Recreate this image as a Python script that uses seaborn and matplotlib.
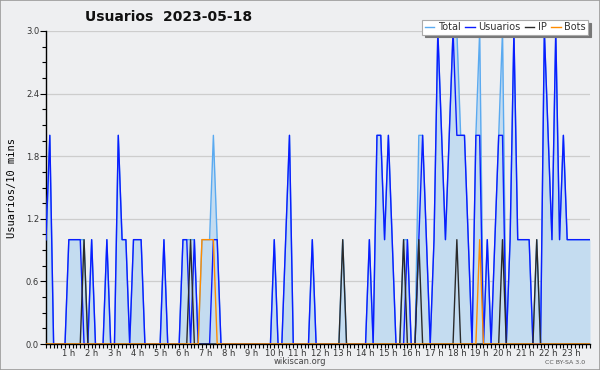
import numpy as np
import pandas as pd
import matplotlib
matplotlib.use("Agg")
import matplotlib.pyplot as plt
import seaborn as sns
from matplotlib.ticker import MultipleLocator, FixedLocator
from matplotlib.patches import Rectangle
from matplotlib.lines import Line2D

# 10-minute slots over the day (index 0..143)
usuarios = [1,2,0,0,0,0,1,1,1,1,0,0,
            1,0,0,0,1,0,0,2,1,1,0,1,
            1,1,0,0,0,0,0,1,0,0,0,0,
            1,1,0,1,0,0,0,0,1,1,0,0,
            0,0,0,0,0,0,0,0,0,0,0,0,
            1,0,0,1,2,0,0,0,0,0,1,0,
            0,0,0,0,0,0,0,0,0,0,0,0,
            0,1,0,2,2,1,2,1,0,0,0,1,
            0,0,1,2,1,0,1,3,2,1,2,3,
            2,2,2,1,0,2,2,0,1,0,1,2,
            2,0,1,3,1,1,1,1,0,0,0,3,
            2,1,3,1,2,1,1,1,1,1,1,1]
ip = [0,0,0,0,0,0,0,0,0,0,1,0,
      0,0,0,0,0,0,0,0,0,0,0,0,
      0,0,0,0,0,0,0,0,0,0,0,0,
      0,0,1,0,0,0,0,0,0,0,0,0,
      0,0,0,0,0,0,0,0,0,0,0,0,
      0,0,0,0,0,0,0,0,0,0,0,0,
      0,0,0,0,0,0,1,0,0,0,0,0,
      0,0,0,0,0,0,0,0,0,0,1,0,
      0,0,1,0,0,0,0,0,0,0,0,0,
      1,0,0,0,0,0,0,0,0,0,0,0,
      1,0,0,0,0,0,0,0,0,1,0,0,
      0,0,0,0,0,0,0,0,0,0,0,0]
bots = [0,0,0,0,0,0,0,0,0,0,0,0,
        0,0,0,0,0,0,0,0,0,0,0,0,
        0,0,0,0,0,0,0,0,0,0,0,0,
        0,0,0,0,0,1,1,1,1,0,0,0,
        0,0,0,0,0,0,0,0,0,0,0,0,
        0,0,0,0,0,0,0,0,0,0,0,0,
        0,0,0,0,0,0,0,0,0,0,0,0,
        0,0,0,0,0,0,0,0,0,0,0,0,
        0,0,0,0,0,0,0,0,0,0,0,0,
        0,0,0,0,0,0,1,0,0,0,0,0,
        0,0,0,0,0,0,0,0,0,0,0,0,
        0,0,0,0,0,0,0,0,0,0,0,0]
total = [1,2,0,0,0,0,1,1,1,1,1,0,
         1,0,0,0,1,0,0,2,1,1,0,1,
         1,1,0,0,0,0,0,1,0,0,0,0,
         1,1,1,1,0,1,1,1,2,1,0,0,
         0,0,0,0,0,0,0,0,0,0,0,0,
         1,0,0,1,2,0,0,0,0,0,1,0,
         0,0,0,0,0,0,1,0,0,0,0,0,
         0,1,0,2,2,1,2,1,0,0,1,1,
         0,0,2,2,1,0,1,3,2,1,2,3,
         3,2,2,1,0,2,3,0,1,0,1,2,
         3,0,1,3,1,1,1,1,0,1,0,3,
         2,1,3,1,2,1,1,1,1,1,1,1]

series_names = ["Total", "Usuarios", "IP", "Bots"]
series_colors = ["#5aaaf0", "#0a1cff", "#2a2a2a", "#ff8c00"]
hour_labels = [f"{h} h" for h in range(1, 24)]
yticks = [0.0, 0.6, 1.2, 1.8, 2.4, 3.0]

slots = np.arange(len(total))
df = pd.concat([
    pd.DataFrame({"slot": slots, "valor": vals, "serie": name})
    for name, vals in zip(series_names, [total, usuarios, ip, bots])
], ignore_index=True)

bg = "#eeeff1"
fig = plt.figure(figsize=(6, 3.7), dpi=100, facecolor=bg)
ax = fig.add_axes([46/600, 1-344/370, 544/600, 313/370])
ax.set_facecolor(bg)

ax.fill_between(slots, total, 0, color="#c4dcf0", lw=0, zorder=1)
sns.lineplot(data=df, x="slot", y="valor", hue="serie", hue_order=series_names,
             palette=series_colors, linewidth=1.0, ax=ax, legend=False,
             estimator=None, zorder=3)

ax.set_xlim(0, len(total) - 1)
ax.set_ylim(0, 3.0)
ax.xaxis.set_major_locator(FixedLocator([6*h for h in range(1, 24)]))
ax.set_xticklabels(hour_labels)
ax.xaxis.set_minor_locator(MultipleLocator(1))
ax.set_yticks(yticks)
ax.set_yticklabels([f"{v:.1f}" for v in yticks])
ax.yaxis.set_minor_locator(MultipleLocator(0.15))
ax.tick_params(axis="x", which="major", labelsize=6, length=3, width=0.8,
               color="black", labelcolor="#333333", pad=0.5)
ax.tick_params(axis="y", which="major", labelsize=6, length=4, width=0.8,
               color="black", labelcolor="#333333", pad=1)
ax.tick_params(axis="both", which="minor", length=3, width=0.8, color="black")
ax.grid(axis="y", color="#cdcdcd", lw=0.9, zorder=0)
ax.set_axisbelow(True)
for s in ["top", "right"]:
    ax.spines[s].set_visible(False)
for s in ["left", "bottom"]:
    ax.spines[s].set_color("black")
    ax.spines[s].set_linewidth(1.0)
ax.set_xlabel("")
ax.set_ylabel("Usuarios/10 mins", fontsize=7.5, family="DejaVu Sans Mono", labelpad=6)

fig.text(85/600, 1-17/370, "Usuarios  2023-05-18", fontsize=10, fontweight="bold",
         va="center", ha="left", color="#111111")
fig.text(300/600, 1-362/370, "wikiscan.org", fontsize=6, ha="center", va="center",
         color="#444444")
fig.text(565/600, 1-363/370, "CC BY-SA 3.0", fontsize=4.5, ha="center", va="center",
         color="#555555")

handles = [Line2D([], [], color=c, lw=1.0) for c in series_colors]
leg = fig.legend(handles, series_names, loc="upper right", ncol=4,
                 bbox_to_anchor=(593/600, 1-15/370), fontsize=7, frameon=True,
                 fancybox=False, shadow={"color": "#777777", "alpha": 1},
                 handlelength=1.0, handletextpad=0.35, columnspacing=0.45,
                 borderpad=0.25, edgecolor="#aaaaaa")
leg.get_frame().set_facecolor("white")
leg.get_frame().set_linewidth(0.8)
for t in leg.get_texts():
    t.set_color("#333333")

fig.add_artist(Rectangle((0, 0), 1, 1, transform=fig.transFigure, fill=False,
                         edgecolor="#9a9a9a", lw=1.2))
fig.savefig("out.png", dpi=100, facecolor=bg)
